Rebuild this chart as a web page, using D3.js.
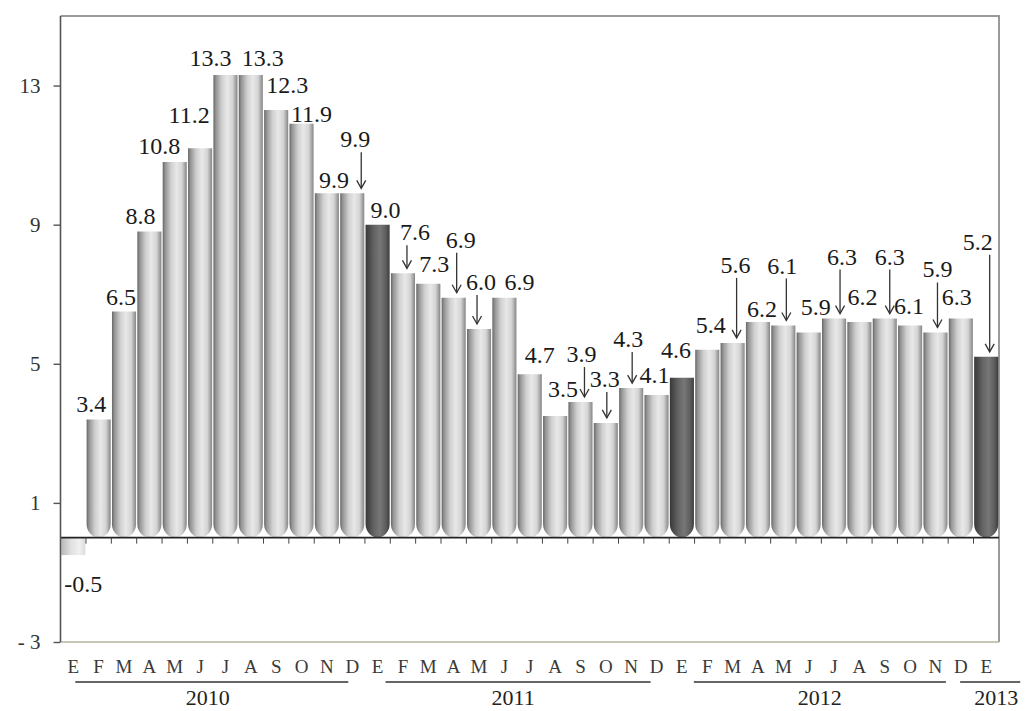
<!DOCTYPE html>
<html>
<head>
<meta charset="utf-8">
<script src="https://cdn.jsdelivr.net/npm/d3@7"></script>
<style>
  html, body { margin: 0; padding: 0; background: #fff; }
  svg { display: block; }
  text { font-family: "Liberation Serif", "Times New Roman", serif; }
</style>
</head>
<body>
<svg id="chart" width="1026" height="711"></svg>
<script>
// ---------- data ----------
const monthLabels = [
  "E","F","M","A","M","J","J","A","S","O","N","D",
  "E","F","M","A","M","J","J","A","S","O","N","D",
  "E","F","M","A","M","J","J","A","S","O","N","D",
  "E"
];
const values = [
  -0.5, 3.4, 6.5, 8.8, 10.8, 11.2, 13.3, 13.3, 12.3, 11.9, 9.9, 9.9,
  9.0, 7.6, 7.3, 6.9, 6.0, 6.9, 4.7, 3.5, 3.9, 3.3, 4.3, 4.1,
  4.6, 5.4, 5.6, 6.2, 6.1, 5.9, 6.3, 6.2, 6.3, 6.1, 5.9, 6.3,
  5.2
];
const years = ["2010", "2011", "2012", "2013"];
const yearStart = [0, 12, 24, 36];
const yearEnd = [11, 23, 35, 36];
const yTicks = [-3, 1, 5, 9, 13];
const yTickLabels = ["- 3", "1", "5", "9", "13"];

// ---------- layout (label placement, not data) ----------
// [dx from bar centre, gap above bar top (baseline), arrow dx or null]
const labelLayout = [
  [10, -37, null], [-7.5, 7, null], [-3, 7, null], [-9, 8, null], [-15.5, 8, null], [-11, 25, null],
  [-15, 9, null], [12, 9, null], [11, 17, null], [10, 2, null], [7, 5, null], [3, 46, 9],
  [8, 7, null], [12, 33, 4], [6, 12, null], [7, 50, 3], [2, 39, -2], [15, 8, null],
  [10, 11, null], [8, 19, null], [1, 40, 4], [-1, 36, 1], [-3, 41, 1], [-2, 12, null],
  [-6, 20, null], [3.5, 17, null], [3, 70, 4], [4, 5, null], [-1, 52, 3], [7, 17, null],
  [8, 54, 6], [3, 17, null], [5, 54, 5], [-1, 12, null], [2, 55, 2], [-4, 14, null],
  [-8.5, 107, 3.5]
];
const yearLineInset = [[14, 16], [20, 18], [24, 27], [-14, -22]];
const yearLabelDx = [-4, -5, 0, 6];

// ---------- chart ----------
const svg = d3.select("#chart");
const pLeft = 60.5, pRight = 999, pTop = 16, pBottom = 642;

const x = d3.scaleBand().domain(d3.range(values.length))
  .range([pLeft, pRight]).paddingInner(0.05).paddingOuter(0.03);
const y = d3.scaleLinear().domain([-3, 15]).range([pBottom, pTop]);
const bw = x.bandwidth();
const fmt = v => d3.format(".1f")(v).replace("\u2212", "-");

const defs = svg.append("defs");
function grad(id, stops) {
  const g = defs.append("linearGradient").attr("id", id)
    .attr("x1", "0%").attr("x2", "100%").attr("y1", "0%").attr("y2", "0%");
  stops.forEach(s => g.append("stop").attr("offset", s[0]).attr("stop-color", s[1]));
}
grad("gLight", [["0%", "#666666"], ["10%", "#939393"], ["35%", "#d0d0d0"], ["58%", "#e8e8e8"], ["80%", "#d4d4d4"], ["100%", "#858585"]]);
grad("gDark", [["0%", "#383838"], ["35%", "#646464"], ["60%", "#777777"], ["85%", "#5c5c5c"], ["100%", "#3c3c3c"]]);
grad("gNeg", [["0%", "#b8b8b8"], ["40%", "#e0e0e0"], ["75%", "#f0f0f0"], ["100%", "#dcdcdc"]]);

// frame (top/right)
svg.append("path")
  .attr("d", `M${pLeft},${pTop} H${pRight} V${pBottom}`)
  .attr("fill", "none").attr("stroke", "#9a9a9a").attr("stroke-width", 2);
// bottom line
svg.append("line").attr("x1", pLeft).attr("x2", pRight).attr("y1", pBottom).attr("y2", pBottom)
  .attr("stroke", "#b4b29c").attr("stroke-width", 1.6);

// bars
const base = y(0);
const isDark = (i) => monthLabels[i] === "E" && i > 0;
svg.append("g").selectAll("path.bar").data(values).join("path")
  .attr("class", "bar")
  .attr("d", (v, i) => {
    const x0 = x(i), w = bw;
    if (v < 0) {
      return `M${x0},${base} H${x0 + w} V${y(v)} H${x0} Z`;
    }
    const t = y(v), rx = w / 2, ry = 14;
    return `M${x0},${t} H${x0 + w} V${base - ry} A${rx},${ry} 0 0 1 ${x0},${base - ry} Z`;
  })
  .attr("fill", (v, i) => v < 0 ? "url(#gNeg)" : (isDark(i) ? "url(#gDark)" : "url(#gLight)"));

// zero line
svg.append("line").attr("x1", pLeft).attr("x2", pRight).attr("y1", base).attr("y2", base)
  .attr("stroke", "#222").attr("stroke-width", 1.6);

// ticks between bars on zero line
const bounds = d3.range(1, values.length).map(i => (x(i - 1) + bw + x(i)) / 2);
svg.append("g").selectAll("line").data(bounds).join("line")
  .attr("x1", d => d).attr("x2", d => d)
  .attr("y1", base).attr("y2", base + 6)
  .attr("stroke", "#444").attr("stroke-width", 1);

// y axis
const yAxis = d3.axisLeft(y).tickValues(yTicks)
  .tickFormat((d, i) => yTickLabels[i]).tickSize(7).tickPadding(13);
const ga = svg.append("g").attr("transform", `translate(${pLeft},0)`).call(yAxis);
ga.select(".domain").attr("stroke", "#555").attr("stroke-width", 1.6)
  .attr("d", `M0,${pTop}V${pBottom}`);
ga.selectAll(".tick line").attr("stroke", "#555").attr("stroke-width", 1.4);
ga.selectAll(".tick text").attr("font-family", "Liberation Serif")
  .attr("font-size", 21).attr("fill", "#333");

// value labels + arrows
const lab = svg.append("g");
values.forEach((v, i) => {
  const [dx, gap, adx] = labelLayout[i];
  const cx = x(i) + bw / 2;
  const ty = y(v);
  const by = ty - gap;
  lab.append("text")
    .attr("x", cx + dx).attr("y", by)
    .attr("text-anchor", "middle")
    .attr("font-size", 24).attr("fill", "#1a1a1a")
    .text(fmt(v));
  if (adx !== null) {
    const ax = cx + adx, y1 = by + 5, y2 = ty - 5;
    lab.append("line").attr("x1", ax).attr("x2", ax).attr("y1", y1).attr("y2", y2)
      .attr("stroke", "#333").attr("stroke-width", 1.3);
    lab.append("path")
      .attr("d", `M${ax - 4.5},${y2 - 8} L${ax},${y2} L${ax + 4.5},${y2 - 8}`)
      .attr("fill", "none").attr("stroke", "#333").attr("stroke-width", 1.3);
  }
});

// month letters
svg.append("g").selectAll("text").data(monthLabels).join("text")
  .attr("x", (d, i) => x(i) + bw / 2).attr("y", 673)
  .attr("text-anchor", "middle").attr("font-size", 19).attr("fill", "#3a3a3a")
  .text(d => d);

// year lines & labels
const yg = svg.append("g");
years.forEach((yr, k) => {
  const x1 = x(yearStart[k]) + yearLineInset[k][0];
  const x2 = x(yearEnd[k]) + bw - yearLineInset[k][1];
  yg.append("line").attr("x1", x1).attr("x2", x2).attr("y1", 682).attr("y2", 682)
    .attr("stroke", "#666").attr("stroke-width", 1.8);
  yg.append("text").attr("x", (x1 + x2) / 2 + yearLabelDx[k]).attr("y", 705)
    .attr("text-anchor", "middle").attr("font-size", 22).attr("fill", "#222")
    .text(yr);
});
</script>
</body>
</html>
